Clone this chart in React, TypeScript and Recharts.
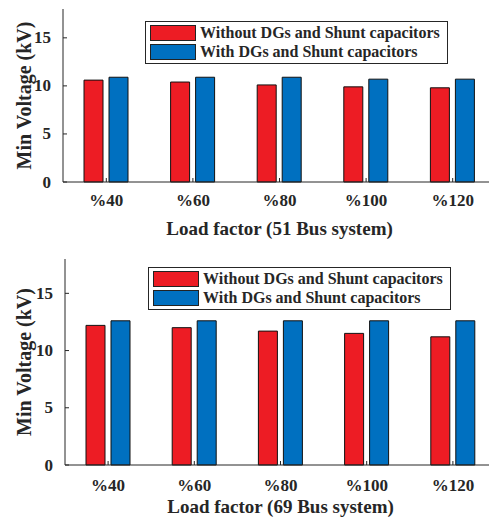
import { Bar, BarChart, XAxis, YAxis } from "recharts";

const categories = ["%40", "%60", "%80", "%100", "%120"];
const seriesNames = ["Without DGs and Shunt capacitors", "With DGs and Shunt capacitors"];
const without51 = [10.6, 10.4, 10.1, 9.9, 9.8];
const with51 = [10.9, 10.9, 10.9, 10.7, 10.7];
const without69 = [12.2, 12.0, 11.7, 11.5, 11.2];
const with69 = [12.6, 12.6, 12.6, 12.6, 12.6];
const yTicks = [0, 5, 10, 15];

const RED = "#ED1C24";
const BLUE = "#0070C0";
const AXIS = "#262626";
const FONT = "'Liberation Serif', 'Times New Roman', serif";

const YTick = (props: any) => {
  const { x, y, payload } = props;
  return (
    <g>
      <line x1={x} x2={x + 4} y1={y} y2={y} stroke={AXIS} />
      <text
        x={x - 12}
        y={y}
        textAnchor="end"
        dominantBaseline="central"
        fontFamily={FONT}
        fontWeight="bold"
        fontSize={17}
        fill={AXIS}
      >
        {payload.value}
      </text>
    </g>
  );
};

const XTick = (props: any) => {
  const { x, y, payload, gap } = props;
  return (
    <g>
      <line x1={x} x2={x} y1={y} y2={y - 4} stroke={AXIS} />
      <text
        x={x}
        y={y + gap}
        textAnchor="middle"
        dominantBaseline="central"
        fontFamily={FONT}
        fontWeight="bold"
        fontSize={17}
        fill={AXIS}
      >
        {payload.value}
      </text>
    </g>
  );
};

const TopTick = (props: any) => {
  const { x, y } = props;
  return <line x1={x} x2={x} y1={y} y2={y + 4} stroke={AXIS} />;
};

function LegendBox({ left, top }: { left: number; top: number }) {
  const colors = [RED, BLUE];
  return (
    <div
      style={{
        position: "absolute",
        left,
        top,
        width: 301,
        height: 41,
        border: `1px solid ${AXIS}`,
        background: "#fff",
        fontFamily: FONT,
        fontWeight: "bold",
        fontSize: 16,
        color: AXIS,
      }}
    >
      {seriesNames.map((name, i) => (
        <div
          key={name}
          style={{ position: "absolute", left: 4, top: 3 + i * 19, height: 16, display: "flex", alignItems: "center", whiteSpace: "nowrap" }}
        >
          <div style={{ width: 44, height: 14, background: colors[i], border: "1px solid #222" }} />
          <span style={{ marginLeft: 4 }}>{name}</span>
        </div>
      ))}
    </div>
  );
}

function Panel(props: {
  top: number;
  height: number;
  plotHeight: number;
  yAxisWidth: number;
  without: number[];
  withV: number[];
  xLabel: string;
  tickGap: number;
  labelGap: number;
  legendLeft: number;
  legendTop: number;
}) {
  const { top, height, plotHeight, yAxisWidth, without, withV, xLabel, tickGap, labelGap, legendLeft, legendTop } = props;
  const data = categories.map((c, i) => ({ cat: c, without: without[i], withV: withV[i] }));
  const marginTop = 9;
  const xAxisHeight = height - marginTop - plotHeight;
  return (
    <div style={{ position: "absolute", left: 0, top, width: 500, height }}>
      <BarChart
        width={500}
        height={height}
        data={data}
        margin={{ top: marginTop, right: 4, bottom: 0, left: 0 }}
        barSize={19}
        barGap={6}
      >
        <XAxis
          dataKey="cat"
          height={xAxisHeight}
          tickSize={0}
          tickMargin={0}
          tick={<XTick gap={tickGap} />}
          axisLine={{ stroke: AXIS }}
          tickLine={false}
          interval={0}
          label={{
            value: xLabel,
            position: "insideTop",
            offset: labelGap,
            style: { fontFamily: FONT, fontWeight: "bold", fontSize: 19, fill: AXIS },
          }}
        />
        <XAxis
          xAxisId="top"
          dataKey="cat"
          orientation="top"
          height={0}
          tickSize={0}
          tickMargin={0}
          tick={<TopTick />}
          tickLine={false}
          axisLine={{ stroke: AXIS }}
          interval={0}
        />
        <YAxis
          width={yAxisWidth}
          domain={[0, 18]}
          ticks={yTicks}
          tickSize={0}
          tickMargin={0}
          tick={<YTick />}
          tickLine={false}
          axisLine={{ stroke: AXIS }}
          label={{
            value: "Min Voltage (kV)",
            angle: -90,
            position: "insideLeft",
            offset: 24,
            style: { textAnchor: "middle", fontFamily: FONT, fontWeight: "bold", fontSize: 20, fill: AXIS },
          }}
        />
        <Bar dataKey="without" name={seriesNames[0]} fill={RED} stroke="#111" strokeWidth={1} isAnimationActive={false} />
        <Bar dataKey="withV" name={seriesNames[1]} fill={BLUE} stroke="#111" strokeWidth={1} isAnimationActive={false} />
      </BarChart>
      <LegendBox left={legendLeft} top={legendTop} />
    </div>
  );
}

export default function App() {
  return (
    <div style={{ position: "absolute", left: 0, top: 0, width: 489, height: 522, overflow: "hidden", background: "#fff" }}>
      <Panel
        top={0}
        height={245}
        plotHeight={173}
        yAxisWidth={63}
        without={without51}
        withV={with51}
        xLabel="Load factor (51 Bus system)"
        tickGap={18}
        labelGap={40}
        legendLeft={145}
        legendTop={21}
      />
      <Panel
        top={250}
        height={272}
        plotHeight={206}
        yAxisWidth={65}
        without={without69}
        withV={with69}
        xLabel="Load factor (69 Bus system)"
        tickGap={20}
        labelGap={35}
        legendLeft={148}
        legendTop={17}
      />
    </div>
  );
}
